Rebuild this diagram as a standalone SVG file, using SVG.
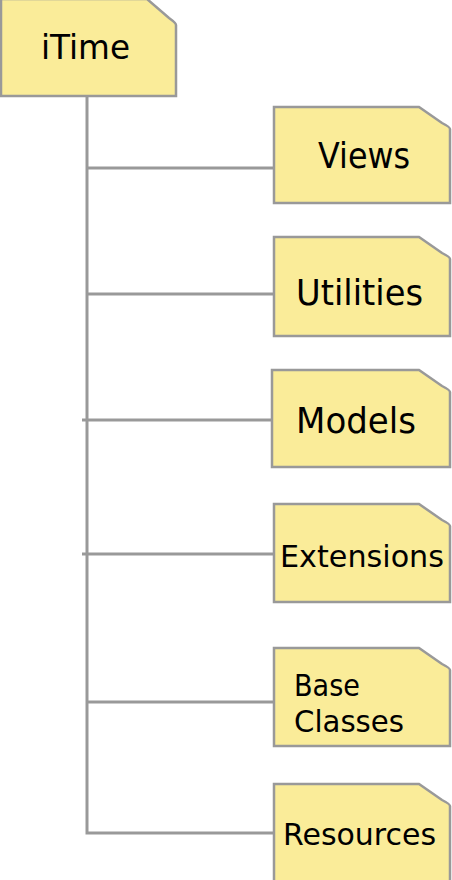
<svg xmlns="http://www.w3.org/2000/svg" width="452" height="880" viewBox="0 0 452 880">
<style>
.node{fill:#faec99;stroke:#999;stroke-width:2.5}
.conn{fill:none;stroke:#999;stroke-width:3}
.lbl{font-family:"DejaVu Sans","Liberation Sans",sans-serif;fill:#000}
</style>
<rect width="452" height="880" fill="#fff"/>
<g id="connectors">
<path class="conn" d="M87,96 V833 H274"/>
<path class="conn" d="M87,168 H274"/>
<path class="conn" d="M87,294 H274"/>
<path class="conn" d="M82,420 H272"/>
<path class="conn" d="M82,554 H274"/>
<path class="conn" d="M87,702 H276"/>
</g>
<g id="node-itime">
<path class="node" d="M1,-1 H147 L169,18 Q176,23 176,25 V96 H1 Z"/>
<text class="lbl" x="41" y="59" font-size="34" textLength="89" lengthAdjust="spacingAndGlyphs">iTime</text>
</g>
<g id="node-views">
<path class="node" d="M274,107 H419 L442,123 Q450,127 450,129 V203 H274 Z"/>
<text class="lbl" x="318" y="168" font-size="35" textLength="92" lengthAdjust="spacingAndGlyphs">Views</text>
</g>
<g id="node-utilities">
<path class="node" d="M274,237 H419 L442,253 Q450,257 450,259 V336 H274 Z"/>
<text class="lbl" x="296" y="305" font-size="35" textLength="127" lengthAdjust="spacingAndGlyphs">Utilities</text>
</g>
<g id="node-models">
<path class="node" d="M272,370 H419 L442,386 Q450,390 450,392 V467 H272 Z"/>
<text class="lbl" x="296" y="433" font-size="35" textLength="120" lengthAdjust="spacingAndGlyphs">Models</text>
</g>
<g id="node-extensions">
<path class="node" d="M274,504 H419 L442,520 Q450,524 450,526 V602 H274 Z"/>
<text class="lbl" x="280" y="567" font-size="31" textLength="164" lengthAdjust="spacingAndGlyphs">Extensions</text>
</g>
<g id="node-baseclasses">
<path class="node" d="M274,648 H419 L442,664 Q450,668 450,670 V746 H274 Z"/>
<text class="lbl" x="294" y="696" font-size="31" textLength="66" lengthAdjust="spacingAndGlyphs">Base</text>
<text class="lbl" x="294" y="732" font-size="31" textLength="110" lengthAdjust="spacingAndGlyphs">Classes</text>
</g>
<g id="node-resources">
<path class="node" d="M274,784 H419 L442,800 Q450,804 450,806 V890 H274 Z"/>
<text class="lbl" x="283" y="845" font-size="31" textLength="153" lengthAdjust="spacingAndGlyphs">Resources</text>
</g>
</svg>
